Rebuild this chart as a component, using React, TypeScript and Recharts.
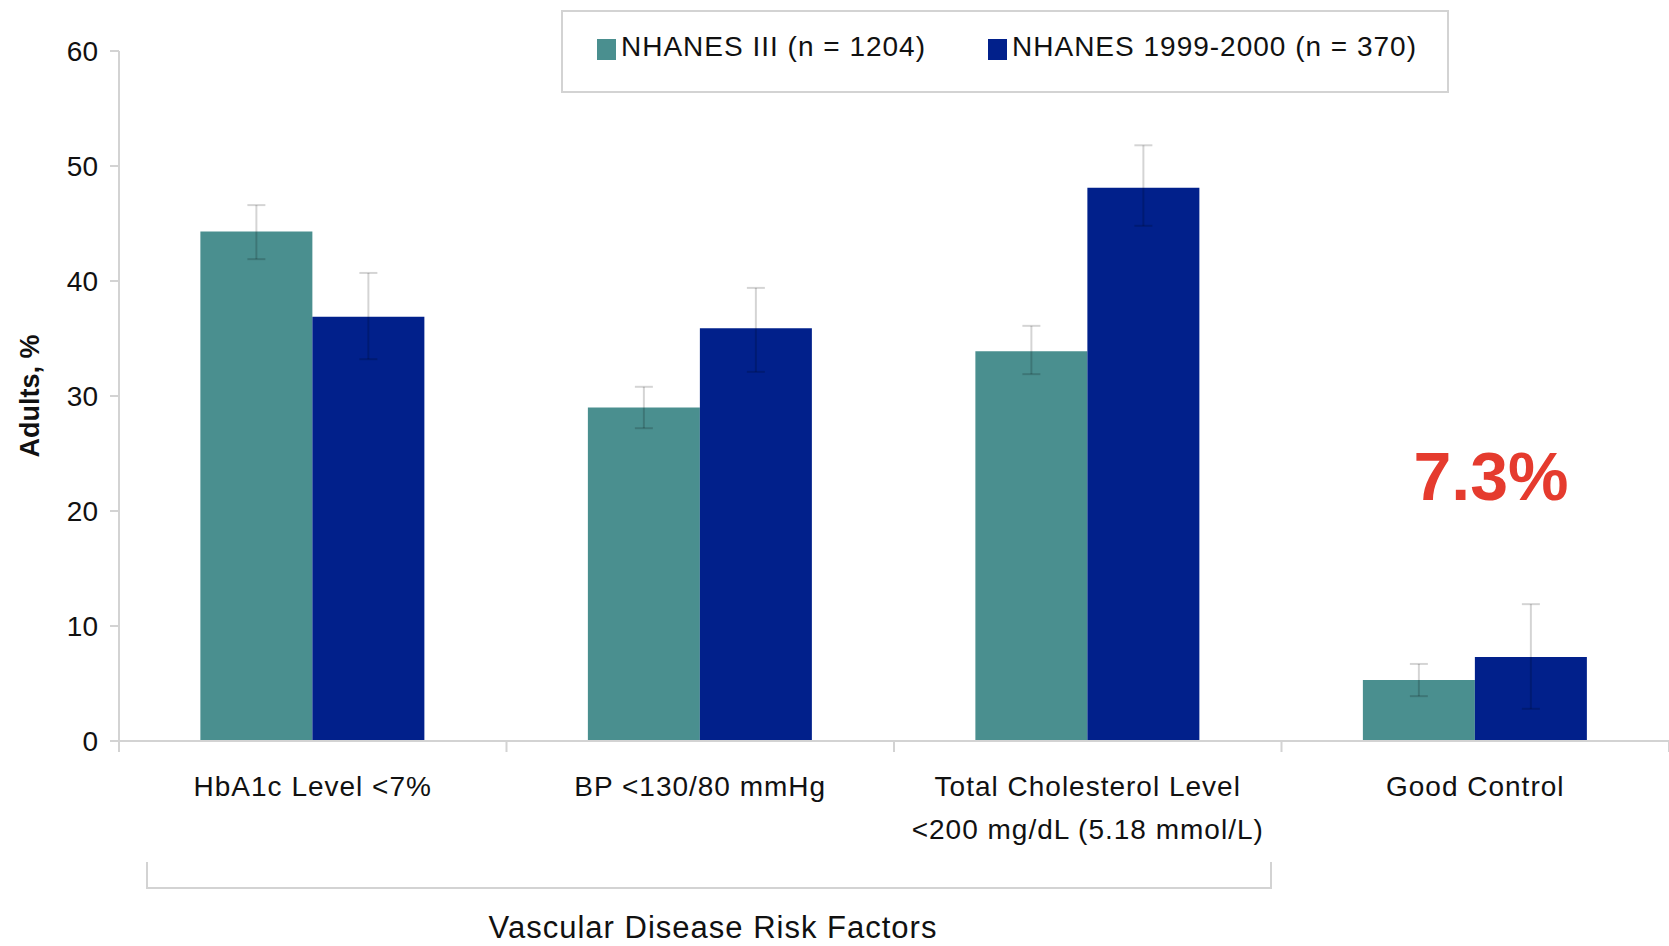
import React from "react";
import { BarChart, Bar, XAxis, YAxis, ErrorBar } from "recharts";

const categories = [
  ["HbA1c Level <7%"],
  ["BP <130/80 mmHg"],
  ["Total Cholesterol Level", "<200 mg/dL (5.18 mmol/L)"],
  ["Good Control"],
];
const seriesNames = ["NHANES III (n = 1204)", "NHANES 1999-2000 (n = 370)"];
const nhanes3 = [44.3, 29.0, 33.9, 5.3];
const nhanes3Low = [41.9, 27.2, 31.9, 3.9];
const nhanes3High = [46.6, 30.8, 36.1, 6.7];
const nhanes99 = [36.9, 35.9, 48.1, 7.3];
const nhanes99Low = [33.2, 32.1, 44.8, 2.8];
const nhanes99High = [40.7, 39.4, 51.8, 11.9];
const yTicks = [0, 10, 20, 30, 40, 50, 60];

const TEAL = "#4A8F8F";
const NAVY = "#01208B";
const GRID = "#d3d3d3";
const FONT = "'Liberation Sans', Arial, sans-serif";
const seriesColors = [TEAL, NAVY];

const chartData = categories.map((lines, i) => ({
  name: lines.join(" "),
  lines,
  a: nhanes3[i],
  aErr: [nhanes3[i] - nhanes3Low[i], nhanes3High[i] - nhanes3[i]],
  b: nhanes99[i],
  bErr: [nhanes99[i] - nhanes99Low[i], nhanes99High[i] - nhanes99[i]],
}));

function CategoryTick(props: any) {
  const { x, y, payload, index, visibleTicksCount } = props;
  const half = payload?.offset || 194;
  const lines: string[] = chartData[index]?.lines || [payload.value];
  return (
    <g>
      <line x1={x - half} x2={x - half} y1={y} y2={y + 11} stroke={GRID} strokeWidth={2} />
      {index === visibleTicksCount - 1 && (
        <line x1={x + half} x2={x + half} y1={y} y2={y + 11} stroke={GRID} strokeWidth={2} />
      )}
      {lines.map((t, k) => (
        <text
          key={k}
          x={x}
          y={y + 45 + k * 43}
          textAnchor="middle"
          dominantBaseline="central"
          fontSize={28}
          letterSpacing={1}
          fill="#111"
          fontFamily={FONT}
        >
          {t}
        </text>
      ))}
    </g>
  );
}

function LegendBox() {
  return (
    <div
      style={{
        position: "absolute",
        left: 561,
        top: 10,
        boxSizing: "border-box",
        width: 888,
        height: 83,
        border: `2px solid ${GRID}`,
        display: "flex",
        alignItems: "center",
        paddingLeft: 34,
        paddingBottom: 9,
        fontSize: 28,
        letterSpacing: 1,
        color: "#111",
      }}
    >
      {seriesNames.map((name, i) => (
        <div key={name} style={{ display: "flex", alignItems: "center", marginRight: i === 0 ? 62 : 0 }}>
          <span style={{ width: 19, height: 21, background: seriesColors[i], display: "inline-block", marginRight: 5, marginTop: 4 }} />
          <span>{name}</span>
        </div>
      ))}
    </div>
  );
}

export default function App() {
  return (
    <div style={{ position: "absolute", left: 0, top: 0, width: 1669, height: 946, background: "#fff", fontFamily: FONT }}>
      <BarChart
        width={1669}
        height={946}
        data={chartData}
        margin={{ top: 51, right: 0, left: 0, bottom: 145 }}
        barCategoryGap="21%"
        barGap={0}
      >
        <XAxis
          dataKey="name"
          height={60}
          interval={0}
          tickSize={0}
          tickMargin={0}
          tick={<CategoryTick />}
          axisLine={{ stroke: GRID, strokeWidth: 2 }}
          tickLine={false}
        />
        <YAxis
          width={119}
          domain={[0, 60]}
          ticks={yTicks}
          tickSize={9}
          tickMargin={12}
          axisLine={{ stroke: GRID, strokeWidth: 2 }}
          tickLine={{ stroke: GRID, strokeWidth: 2 }}
          tick={{ fontSize: 28, fill: "#111", fontFamily: FONT }}
          label={{
            value: "Adults, %",
            angle: -90,
            position: "insideLeft",
            dx: 24,
            style: { fontSize: 27, fontWeight: 700, fill: "#111", fontFamily: FONT, textAnchor: "middle" },
          }}
        />
        <Bar dataKey="a" name={seriesNames[0]} fill={TEAL} isAnimationActive={false}>
          <ErrorBar dataKey="aErr" width={9} stroke="rgba(0,0,0,0.17)" strokeWidth={2} />
        </Bar>
        <Bar dataKey="b" name={seriesNames[1]} fill={NAVY} isAnimationActive={false}>
          <ErrorBar dataKey="bErr" width={9} stroke="rgba(0,0,0,0.17)" strokeWidth={2} />
        </Bar>
      </BarChart>
      <LegendBox />
      <div
        style={{
          position: "absolute",
          left: 146,
          top: 862,
          width: 1126,
          height: 27,
          boxSizing: "border-box",
          borderLeft: `2px solid ${GRID}`,
          borderRight: `2px solid ${GRID}`,
          borderBottom: `2px solid ${GRID}`,
        }}
      />
      <div
        style={{
          position: "absolute",
          left: 413,
          width: 600,
          top: 908,
          textAlign: "center",
          fontSize: 31,
          letterSpacing: 1,
          color: "#111",
          lineHeight: "40px",
        }}
      >
        Vascular Disease Risk Factors
      </div>
      <div
        style={{
          position: "absolute",
          left: 1391,
          width: 200,
          top: 436,
          textAlign: "center",
          fontSize: 68,
          fontWeight: 700,
          color: "#E53B2E",
          lineHeight: "80px",
        }}
      >
        7.3%
      </div>
    </div>
  );
}
